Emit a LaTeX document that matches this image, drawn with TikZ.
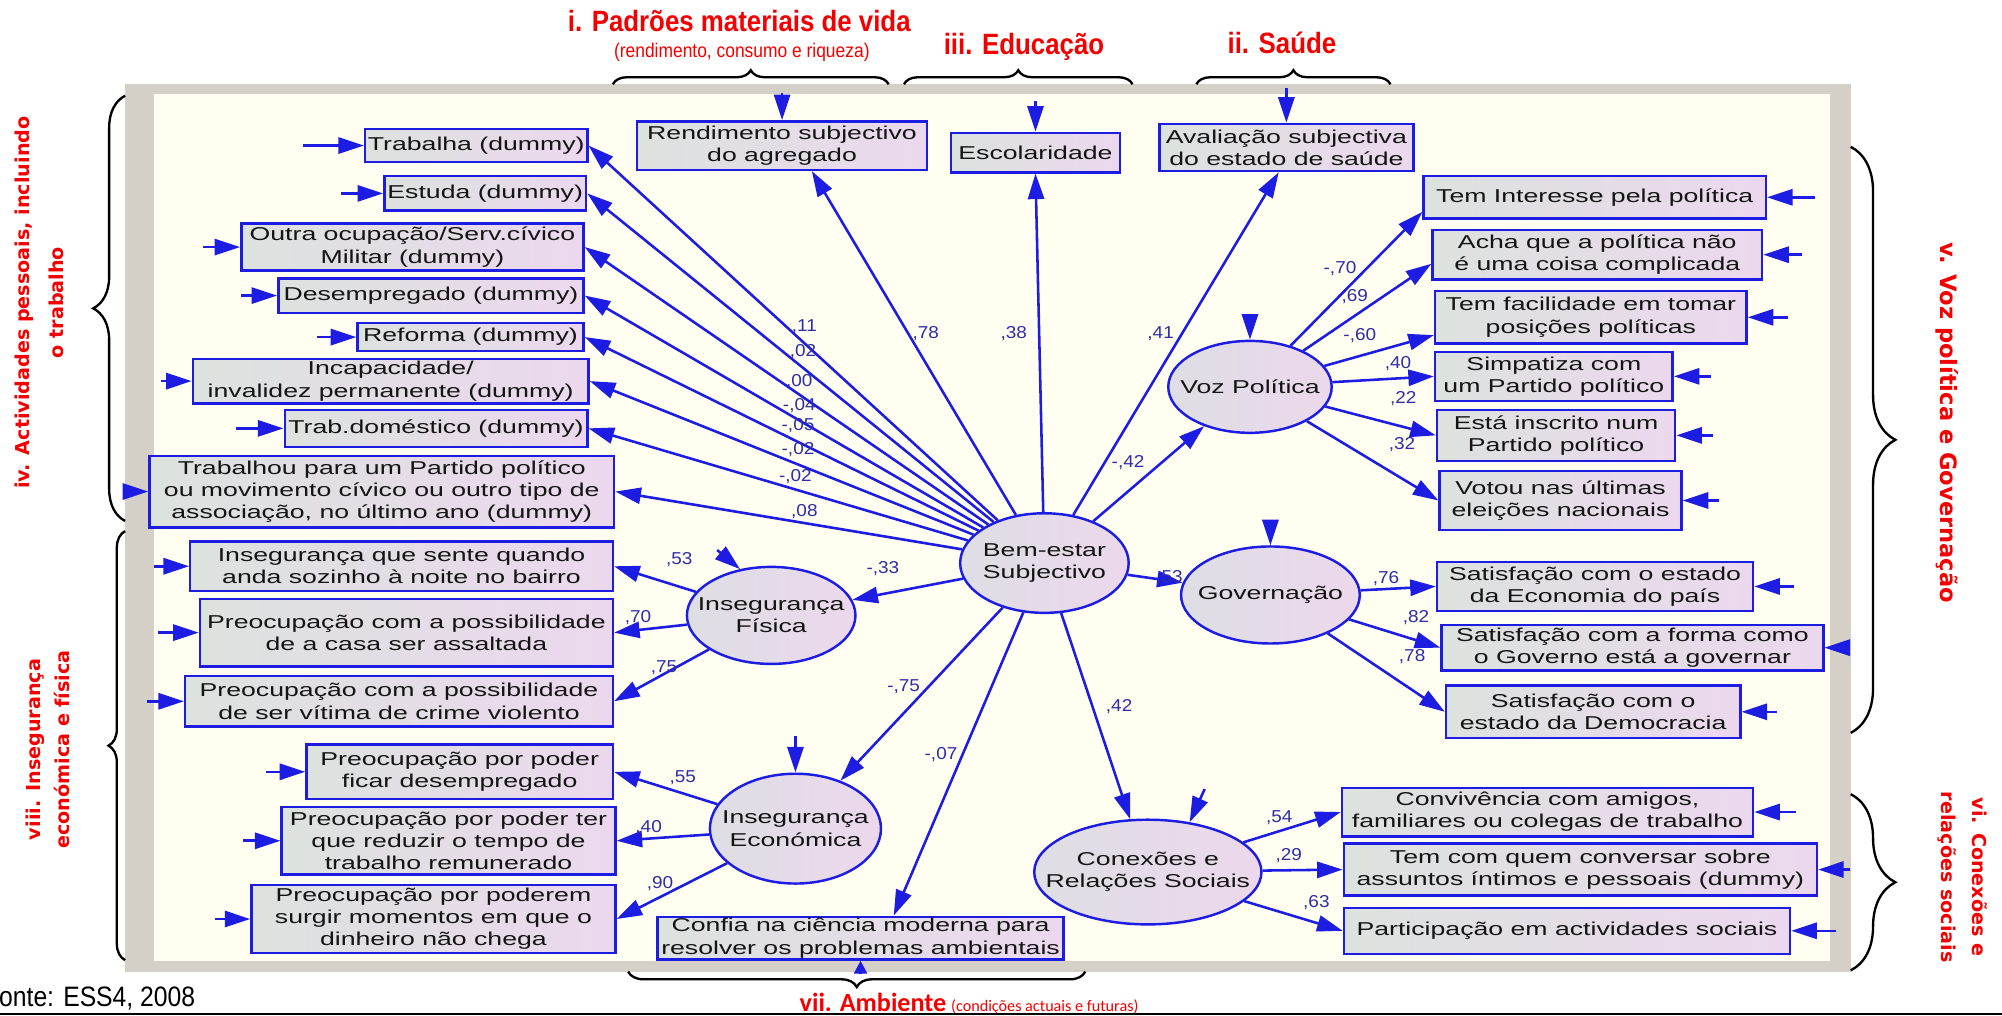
\documentclass[tikz,border=0pt]{standalone}
\usepackage{fontspec}
\setmainfont{Liberation Sans}
\newfontfamily\boxfont[FakeStretch=1.43]{Liberation Sans}
\newfontfamily\labfont[FakeStretch=1.1]{Liberation Sans}
\newfontfamily\narrowfont[FakeStretch=0.88]{Liberation Sans}
\newfontfamily\sidefont{DejaVu Sans}
\newfontfamily\calfont{Carlito}
\usetikzlibrary{arrows.meta,shapes.geometric,decorations.pathreplacing}
\definecolor{pblue}{HTML}{1C1CE2}
\definecolor{labblue}{HTML}{2E2EA6}
\definecolor{frgray}{HTML}{D4D0C8}
\definecolor{cream}{HTML}{FFFEF0}
\definecolor{boxL}{HTML}{DCE2DE}
\definecolor{boxR}{HTML}{ECD8EE}
\definecolor{latL}{HTML}{DEDEE4}
\definecolor{latR}{HTML}{ECD8EC}
\definecolor{tred}{HTML}{F40000}
\definecolor{txt}{HTML}{151515}
\newlength\upx \setlength\upx{0.6pt}
\tikzset{
  obs/.style={draw=pblue, line width=1.15pt, left color=boxL, right color=boxR, inner sep=0pt, align=center, text=txt, font=\boxfont\fontsize{8.76pt}{10.4pt}\selectfont},
  lat/.style={ellipse, draw=pblue, line width=1.15pt, left color=latL, right color=latR, inner sep=0pt},
  lattext/.style={align=center, text=txt, inner sep=0pt, font=\boxfont\fontsize{8.76pt}{10.4pt}\selectfont},
  cpath/.style={draw=pblue, line width=1.2pt, -{Triangle[length=12pt,width=7.6pt]}},
  cshort/.style={draw=pblue, line width=1.2pt, -{Triangle[length=6pt,width=6pt]}},
  lab/.style={text=labblue, inner sep=0pt, font=\labfont\fontsize{8.1pt}{9pt}\selectfont},
  ttl/.style={text=tred, inner sep=0pt, font=\narrowfont\bfseries\fontsize{13.8pt}{15pt}\selectfont},
  subttl/.style={text=tred, inner sep=0pt, font=\narrowfont\fontsize{9.3pt}{10pt}\selectfont},
  side/.style={text=tred, inner sep=0pt, align=center, font=\sidefont\bfseries\fontsize{9pt}{#1}\selectfont},
  brc/.style={draw=black, line width=1.1pt, decorate, decoration={brace, amplitude=#1}},
}
\newcommand\obox[6]{\node[obs, minimum width=(#3-#2)*\upx, minimum height=(#5-#4)*\upx] (#1) at ({(#2+#3)/2},{(#4+#5)/2}) {#6};}
\newcommand\latnode[6]{\node[lat, minimum width=2*#4*\upx, minimum height=2*#5*\upx, label={[lattext, name=#1T]center:{#6}}] (#1) at (#2,#3) {};}
\newcommand\errL[2]{\coordinate (#1e) at (#1.west -| #2,0); \draw[cpath] (#1e) -- (#1.west);}
\newcommand\errR[2]{\coordinate (#1e) at (#1.east -| #2,0); \draw[cpath] (#1e) -- (#1.east);}
\begin{document}
\begin{tikzpicture}[x=0.6pt,y=-0.6pt]
\useasboundingbox (0,0) rectangle (1568,795);
\fill[white] (0,0) rectangle (1568,795);
% frame
\fill[frgray] (98,66) rectangle (1449.5,761);
\fill[cream] (121,73.6) rectangle (1433,753);
% braces
\draw[brc=6.6pt] (480,66) -- (696,66);
\draw[brc=6.6pt] (708,66) -- (887,66);
\draw[brc=6.6pt] (937,66) -- (1089,66);
\draw[brc=7.2pt] (850,761) -- (492,761);
\draw[brc=15pt] (98,408) -- (98,75);
\draw[brc=7.8pt] (98,752) -- (98,416);
\draw[brc=21pt] (1449.5,115) -- (1449.5,574);
\draw[brc=21pt] (1449.5,622) -- (1449.5,760);
% titles
\node[ttl, anchor=base] (t1) at (579,25) {i. Padrões materiais de vida};
\node[subttl, anchor=base] (t1s) at (581,45) {(rendimento, consumo e riqueza)};
\node[ttl, anchor=base] (t3) at (802,43) {iii. Educação};
\node[ttl, anchor=base] (t2) at (1004,42) {ii. Saúde};
\node[side=15.9pt, rotate=90] (t4) at (31,237) {iv. Actividades pessoais, incluindo\\o trabalho};
\node[side=13.8pt, rotate=90] (t8) at (37.5,587) {viii. Insegurança\\económica e física};
\node[side=12pt, rotate=-90, font=\sidefont\bfseries\fontsize{10.6pt}{12pt}\selectfont] (t5) at (1525,331) {v. Voz política e Governação};
\node[side=14.4pt, rotate=-90] (t6) at (1537,687) {vi. Conexões e\\relações sociais};
\node[anchor=base west, inner sep=0pt, text=tred, font=\calfont] (t7) at (626,792) {{\fontsize{12.3pt}{13pt}\selectfont\bfseries vii. Ambiente} {\fontsize{7.6pt}{8pt}\selectfont(condições actuais e futuras)}};
\node[anchor=base west, inner sep=0pt, font=\narrowfont\fontsize{13.2pt}{14pt}\selectfont] (fonte) at (-1,788) {onte: ESS4, 2008};
\draw[line width=1pt] (0,794) -- (1568,794);
% observed boxes
\obox{trab}{286}{460}{101}{127}{Trabalha (dummy)}
\obox{estu}{301}{459}{138}{165}{Estuda (dummy)}
\obox{outra}{189}{457}{175}{212}{Outra ocupação/Serv.cívico\\Militar (dummy)}
\obox{desemp}{218}{457}{218}{245}{Desempregado (dummy)}
\obox{refor}{280}{457}{253}{275}{Reforma (dummy)}
\obox{incap}{151}{461}{281}{316}{Incapacidade/\\invalidez permanente (dummy)}
\obox{trabdom}{223}{460}{321}{350}{Trab.doméstico (dummy)}
\obox{trabpart}{117}{481}{357}{413}{Trabalhou para um Partido político\\ou movimento cívico ou outro tipo de\\associação, no último ano (dummy)}
\obox{rend}{499}{726}{95}{133}{Rendimento subjectivo\\do agregado}
\obox{escol}{745}{877}{104}{135}{Escolaridade}
\obox{aval}{908}{1107}{97}{134}{Avaliação subjectiva\\do estado de saúde}
\obox{interesse}{1115}{1383}{138}{171}{Tem Interesse pela política}
\obox{acha}{1122}{1380}{180}{219}{Acha que a política não\\é uma coisa complicada}
\obox{facil}{1124}{1368}{228}{269}{Tem facilidade em tomar\\posições políticas}
\obox{simp}{1124}{1310}{275.5}{314}{Simpatiza com\\um Partido político}
\obox{inscr}{1125.5}{1312}{321}{361}{Está inscrito num\\Partido político}
\obox{votou}{1127.5}{1317}{369}{415}{Votou nas últimas\\eleições nacionais}
\obox{econ}{1125.5}{1373}{440}{478.6}{Satisfação com o estado\\da Economia do país}
\obox{forma}{1129}{1428}{489.5}{525}{Satisfação com a forma como\\o Governo está a governar}
\obox{democ}{1132.5}{1363}{537}{578}{Satisfação com o\\estado da Democracia}
\obox{conviv}{1051}{1373}{617}{655}{Convivência com amigos,\\familiares ou colegas de trabalho}
\obox{conversar}{1052.5}{1423}{660.6}{701.5}{Tem com quem conversar sobre\\assuntos íntimos e pessoais (dummy)}
\obox{partic}{1052.5}{1402}{711}{747}{Participação em actividades sociais}
\obox{noite}{149}{480}{424}{463}{Insegurança que sente quando\\anda sozinho à noite no bairro}
\obox{casa}{156.6}{480}{469}{522}{Preocupação com a possibilidade\\de a casa ser assaltada}
\obox{crime}{145}{480}{529.5}{569}{Preocupação com a possibilidade\\de ser vítima de crime violento}
\obox{pdesemp}{240}{480}{583}{626}{Preocupação por poder\\ficar desempregado}
\obox{pter}{220.6}{482}{632}{685}{Preocupação por poder ter\\que reduzir o tempo de\\trabalho remunerado}
\obox{pdinh}{197}{482}{693}{746.6}{Preocupação por poderem\\surgir momentos em que o\\dinheiro não chega}
\obox{confia}{515}{833}{718}{751.5}{Confia na ciência moderna para\\resolver os problemas ambientais}
% latent variables
\latnode{bem}{818}{441}{66}{39}{Bem-estar\\Subjectivo}
\latnode{fis}{604}{482}{66}{38}{Insegurança\\Física}
\latnode{ecoi}{623}{649}{67}{43}{Insegurança\\Económica}
\latnode{gov}{995}{466}{70}{38}{Governação}
\latnode{conex}{899}{683}{89}{41}{Conexões e\\Relações Sociais}
\latnode{voz}{979}{303}{64}{36}{Voz Política}
% structural paths
\foreach \t in {trab,estu,outra,desemp,refor,incap,trabdom,trabpart}
  \draw[cpath] (bem) -- (\t.east);
\draw[cpath] (bem) -- ([xshift=14pt]rend.south);
\draw[cpath] (bem) -- (escol.south);
\draw[cpath] (bem) -- ([xshift=-3.6pt]aval.south);
\draw[cpath] (bem) -- (voz);
\draw[cpath] (bem) -- (gov);
\draw[cpath] (bem) -- (fis);
\draw[cpath] (bem) -- (ecoi);
\draw[cpath] (bem) -- (conex);
\draw[cpath] (bem) -- ([xshift=15.6pt]confia.north);
% measurement paths
\draw[cpath] (voz) -- ([yshift=3.6pt]interesse.south west);
\draw[cpath] (voz) -- ([yshift=8pt]acha.south west);
\draw[cpath] (voz) -- ([yshift=4.5pt]facil.south west);
\draw[cpath] (voz) -- (simp.west);
\draw[cpath] (voz) -- (inscr.west);
\draw[cpath] (voz) -- (votou.west);
\draw[cpath] (gov) -- (econ.west);
\draw[cpath] (gov) -- (forma.west);
\draw[cpath] (gov) -- (democ.west);
\draw[cpath] (conex) -- (conviv.west);
\draw[cpath] (conex) -- (conversar.west);
\draw[cpath] (conex) -- (partic.west);
\draw[cpath] (fis) -- (noite.east);
\draw[cpath] (fis) -- (casa.east);
\draw[cpath] (fis) -- (crime.east);
\draw[cpath] (ecoi) -- (pdesemp.east);
\draw[cpath] (ecoi) -- (pter.east);
\draw[cpath] (ecoi) -- (pdinh.east);
% error arrows
\errL{trab}{237}\errL{estu}{267}\errL{outra}{159}\errL{desemp}{189}
\errL{refor}{248}\errL{incap}{126}\errL{trabdom}{185}\errL{trabpart}{98}
\errL{noite}{120.7}\errL{casa}{124}\errL{crime}{115}
\errL{pdesemp}{208}\errL{pter}{190.6}\errL{pdinh}{168}
\errR{interesse}{1421.5}\errR{acha}{1411}\errR{facil}{1400}\errR{simp}{1340}
\errR{inscr}{1342}\errR{votou}{1346}\errR{econ}{1405}\errR{forma}{1449}
\errR{democ}{1392}\errR{conviv}{1406.6}\errR{conversar}{1449}\errR{partic}{1438}
\coordinate (rende) at (rend.north |- 0,73);
\draw[cpath] (rende) -- (rend.north);
\coordinate (escole) at (escol.north |- 0,79);
\draw[cpath] (escole) -- (escol.north);
\coordinate (avale) at (aval.north |- 0,69);
\draw[cpath] (avale) -- (aval.north);
\coordinate (confiae) at (confia.south |- 0,762);
\draw[cshort] (confiae) -- (confia.south);
\coordinate (voze) at (voz.north |- 0,246);
\draw[cpath] (voze) -- (voz.north);
\coordinate (gove) at (gov.north |- 0,408);
\draw[cpath] (gove) -- (gov.north);
\coordinate (ecoie) at (ecoi.north |- 0,576.5);
\draw[cpath] (ecoie) -- (ecoi.north);
\coordinate (fise) at (561.7,430.8);
\draw[cpath] (fise) -- (fis.124);
\coordinate (conexe) at (943.5,618);
\draw[cpath] (conexe) -- (conex.50);
% coefficient labels
\node[lab] (l1) at (630,256) {,11};
\node[lab] (l2) at (629,275.5) {,02};
\node[lab] (l3) at (626,299) {,00};
\node[lab] (l4) at (626,318) {-,04};
\node[lab] (l5) at (625,333.5) {-,05};
\node[lab] (l6) at (625,352) {-,02};
\node[lab] (l7) at (623,373) {-,02};
\node[lab] (l8) at (630,400.5) {,08};
\node[lab] (l9) at (725,261.5) {,78};
\node[lab] (l10) at (794,261.5) {,38};
\node[lab] (l11) at (909,261.5) {,41};
\node[lab] (l12) at (883.5,362) {-,42};
\node[lab] (l13) at (1049.5,210) {-,70};
\node[lab] (l14) at (1061,232) {,69};
\node[lab] (l15) at (1065,263) {-,60};
\node[lab] (l16) at (1095,285) {,40};
\node[lab] (l17) at (1099,312.5) {,22};
\node[lab] (l18) at (1098,348) {,32};
\node[lab] (l19) at (532,438.6) {,53};
\node[lab] (l20) at (691.5,445.6) {-,33};
\node[lab] (l21) at (499.7,484) {,70};
\node[lab] (l22) at (520,523) {,75};
\node[lab] (l23) at (916,452.7) {,53};
\node[lab] (l24) at (1085.5,453.5) {,76};
\node[lab] (l25) at (707.7,537.7) {-,75};
\node[lab] (l26) at (876.5,553.7) {,42};
\node[lab] (l27) at (737,591) {-,07};
\node[lab] (l28) at (534.7,609) {,55};
\node[lab] (l29) at (508,648) {,40};
\node[lab] (l30) at (517,692) {,90};
\node[lab] (l31) at (1002,640.7) {,54};
\node[lab] (l32) at (1009.4,670) {,29};
\node[lab] (l33) at (1031,707) {,63};
\node[lab] (l34) at (1109,483.6) {,82};
\node[lab] (l35) at (1106,514) {,78};
\end{tikzpicture}
\end{document}
